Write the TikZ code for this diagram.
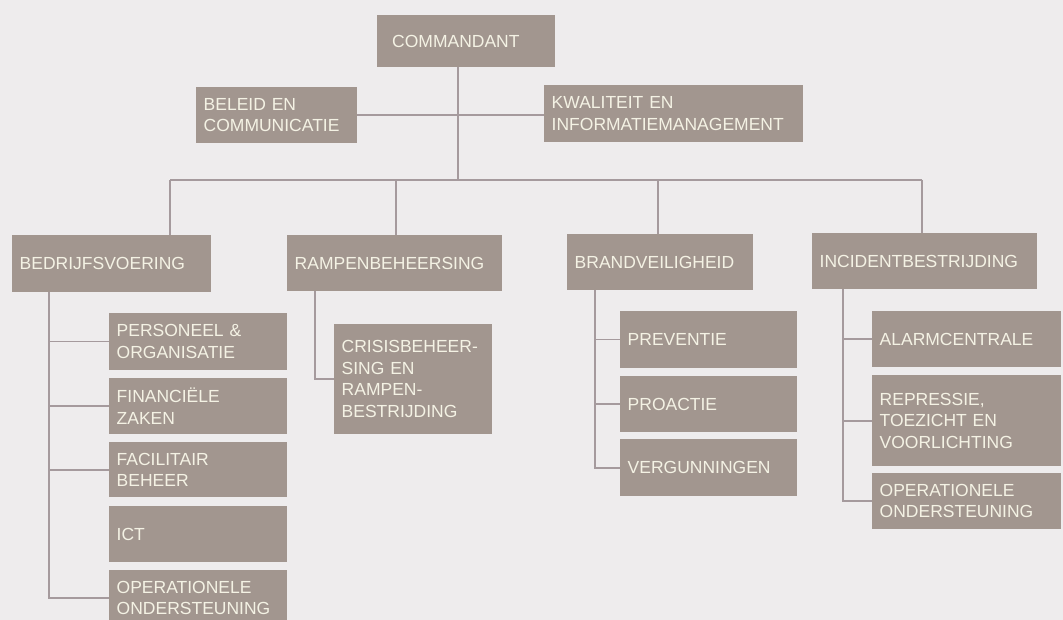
\documentclass[tikz,border=0pt]{standalone}
\usepackage{fontspec}
\setmainfont{Liberation Sans}
\definecolor{bgc}{HTML}{EEECED}
\definecolor{boxc}{HTML}{A2968F}
\definecolor{linec}{HTML}{A59A9D}
\definecolor{textc}{HTML}{F4F2E4}
\tikzset{
  box/.style={fill=boxc, draw=none, text=textc, align=left, inner xsep=7.5pt, inner ysep=0pt,
    anchor=north west, font=\fontsize{17.5}{21.5}\selectfont},
  conn/.style={draw=linec, line width=1.6pt}
}
\newcommand{\bx}[6]{\node[box, text width=#4pt-15pt, minimum height=#5pt] (#1) at (#2,#3) {#6};}
\begin{document}
\begin{tikzpicture}[x=1pt,y=-1pt]
\useasboundingbox (0,0) rectangle (1063,620);
\clip (0,0) rectangle (1063,620);
\fill[bgc] (0,0) rectangle (1063,620);

% top
\node[box, inner xsep=15pt, text width=148pt, minimum height=52pt] (com) at (377,15) {COMMANDANT};
\bx{bel}{196}{87}{161}{56}{BELEID EN\\COMMUNICATIE}
\bx{kwa}{544}{85}{259}{57}{KWALITEIT EN\\INFORMATIEMANAGEMENT}

% level 2
\bx{bed}{12}{235}{199}{57}{BEDRIJFSVOERING}
\bx{ram}{287}{235}{215}{56}{RAMPENBEHEERSING}
\bx{bra}{567}{234}{186}{56}{BRANDVEILIGHEID}
\bx{inc}{812}{233}{225}{56}{INCIDENTBESTRIJDING}

% bedrijfsvoering
\bx{per}{109}{313}{178}{57}{PERSONEEL \&\\ORGANISATIE}
\bx{fin}{109}{378}{178}{56}{FINANCIËLE\\ZAKEN}
\bx{fac}{109}{442}{178}{55}{FACILITAIR\\BEHEER}
\bx{ict}{109}{506}{178}{56}{ICT}
\bx{ope}{109}{570}{178}{56}{OPERATIONELE\\ONDERSTEUNING}

% rampenbeheersing
\bx{cri}{334}{324}{158}{110}{CRISISBEHEER-\\SING EN\\RAMPEN-\\BESTRIJDING}

% brandveiligheid
\bx{pre}{620}{311}{177}{57}{PREVENTIE}
\bx{pro}{620}{376}{177}{56}{PROACTIE}
\bx{ver}{620}{439}{177}{57}{VERGUNNINGEN}

% incidentbestrijding
\bx{ala}{872}{311}{189}{56}{ALARMCENTRALE}
\bx{rep}{872}{375}{189}{91}{REPRESSIE,\\TOEZICHT EN\\VOORLICHTING}
\bx{op2}{872}{473}{189}{56}{OPERATIONELE\\ONDERSTEUNING}

% connectors
\coordinate (bus) at (458,180);
\coordinate (b1) at (170,180);
\coordinate (b2) at (396,180);
\coordinate (b3) at (658,180);
\coordinate (b4) at (922,180);
\draw[conn] (com.south -| bus) -- (bus);
\draw[conn] (bel.east) -- (bel.east -| kwa.west);
\draw[conn] (b1) -- (b4);
\draw[conn] (b1) -- (b1 |- bed.north);
\draw[conn] (b2) -- (b2 |- ram.north);
\draw[conn] (b3) -- (b3 |- bra.north);
\draw[conn] (b4) -- (b4 |- inc.north);

\coordinate (s1) at (49,0);
\draw[conn] (s1 |- bed.south) -- (s1 |- ope.west) -- (ope.west);
\draw[conn] (s1 |- per.west) -- (per.west);
\draw[conn] (s1 |- fin.west) -- (fin.west);
\draw[conn] (s1 |- fac.west) -- (fac.west);

\coordinate (s2) at (315,0);
\draw[conn] (s2 |- ram.south) -- (s2 |- cri.west) -- (cri.west);

\coordinate (s3) at (595,0);
\draw[conn] (s3 |- bra.south) -- (s3 |- ver.west) -- (ver.west);
\draw[conn] (s3 |- pre.west) -- (pre.west);
\draw[conn] (s3 |- pro.west) -- (pro.west);

\coordinate (s4) at (843,0);
\draw[conn] (s4 |- inc.south) -- (s4 |- op2.west) -- (op2.west);
\draw[conn] (s4 |- ala.west) -- (ala.west);
\draw[conn] (s4 |- rep.west) -- (rep.west);
\end{tikzpicture}
\end{document}
